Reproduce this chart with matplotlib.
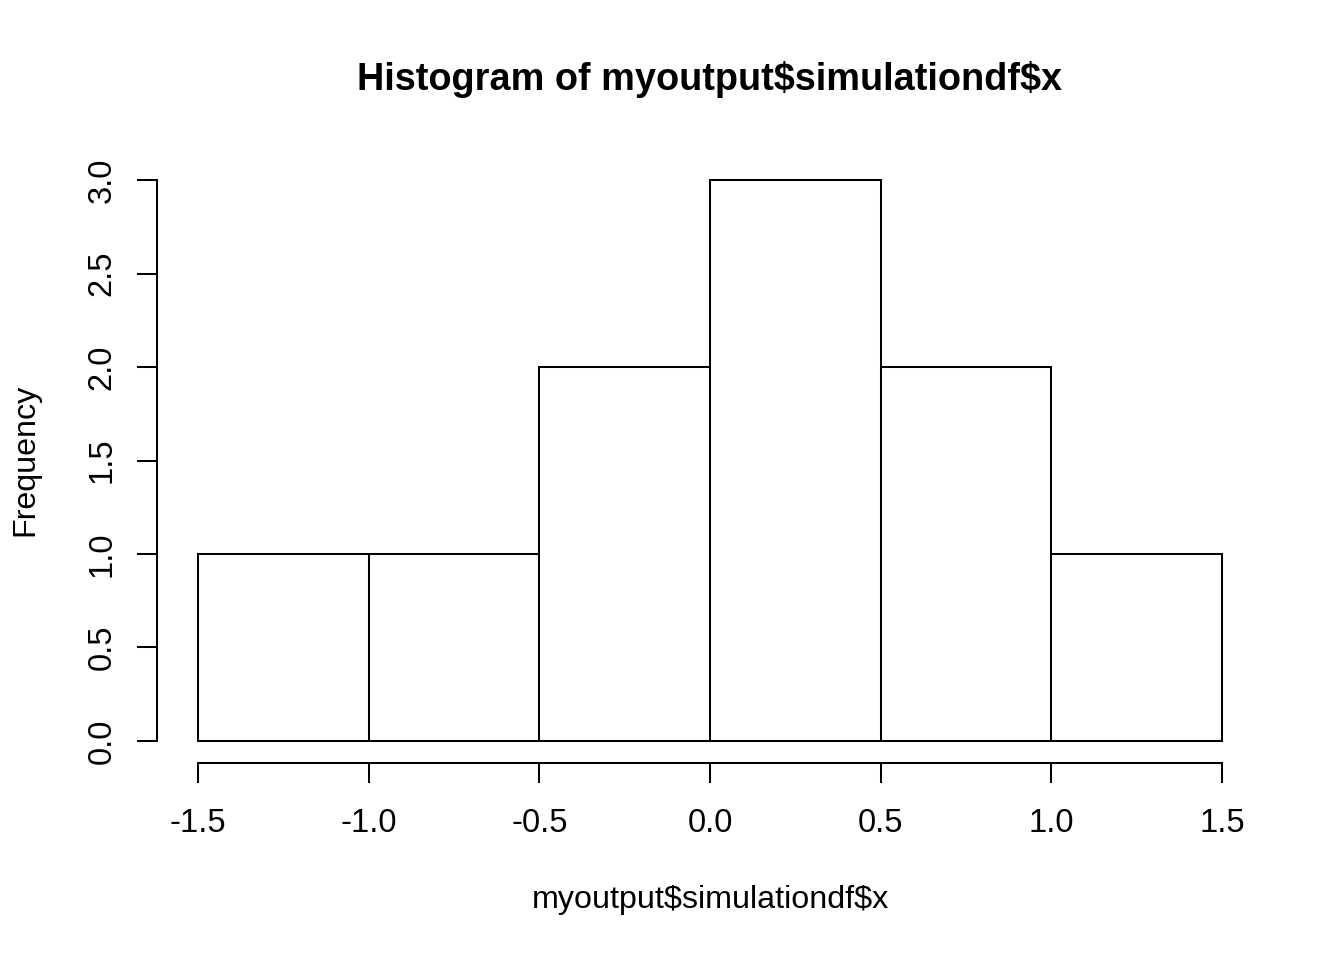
import matplotlib.pyplot as plt
import numpy as np

plt.rcParams['font.family'] = ['Liberation Sans', 'DejaVu Sans']
plt.rcParams['text.parse_math'] = False

# histogram bins and counts
edges = [-1.5, -1.0, -0.5, 0.0, 0.5, 1.0, 1.5]
counts = [1, 1, 2, 3, 2, 1]
xticks = [-1.5, -1.0, -0.5, 0.0, 0.5, 1.0, 1.5]
yticks = [0.0, 0.5, 1.0, 1.5, 2.0, 2.5, 3.0]

W, H = 1344, 960
fig = plt.figure(figsize=(13.44, 9.6), dpi=100)
ax = fig.add_axes([157 / W, (960 - 763.4) / H, (1263 - 157) / W, (763.4 - 157.6) / H])

lw = 1.45
ax.hist(edges[:-1], bins=edges, weights=counts, histtype='bar',
        facecolor='white', edgecolor='black', linewidth=lw)

ax.set_xlim(-1.62, 1.62)
ax.set_ylim(-0.12, 3.12)

for s in ['top', 'right']:
    ax.spines[s].set_visible(False)
ax.spines['left'].set_bounds(0, 3)
ax.spines['bottom'].set_bounds(-1.5, 1.5)
for s in ['left', 'bottom']:
    ax.spines[s].set_linewidth(lw)

ax.set_xticks(xticks)
ax.set_xticklabels(['%.1f' % v for v in xticks])
ax.set_yticks(yticks)
ax.set_yticklabels(['%.1f' % v for v in yticks], rotation=90, va='center')
ax.tick_params(axis='both', length=14.4, width=lw, labelsize=23.5)
ax.tick_params(axis='x', pad=18)
ax.tick_params(axis='y', pad=14)

fig.text(710 / W, 1 - 80 / H, 'Histogram of myoutput$simulationdf$x',
         ha='center', va='center', fontsize=27.3, fontweight='bold')
fig.text(710 / W, 1 - 900 / H, 'myoutput$simulationdf$x',
         ha='center', va='center', fontsize=23.2)
fig.text(25 / W, 1 - 460 / H, 'Frequency', rotation=90,
         ha='center', va='center', fontsize=23.2)

fig.savefig('out.png', dpi=100)
